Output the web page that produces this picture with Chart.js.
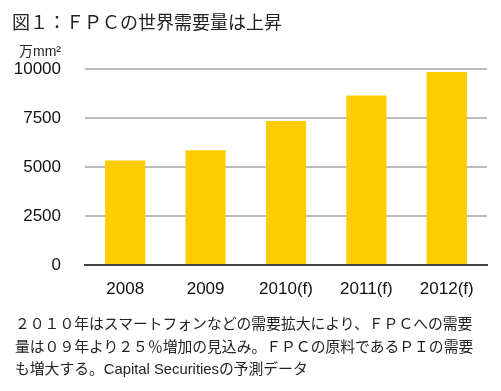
<!DOCTYPE html>
<html>
<head>
<meta charset="utf-8">
<script src="https://cdn.jsdelivr.net/npm/chart.js@4"></script>
<style>
  body { margin: 0; background: #fff; }
  #wrap { position: relative; width: 501px; height: 391px; overflow: hidden;
          font-family: "Liberation Sans", "Noto Sans CJK JP", sans-serif; color: #222; }
  #title { position: absolute; left: 12px; top: 8px; font-size: 18px; white-space: nowrap; }
  #unit { position: absolute; right: 440px; top: 40px; font-size: 14px; white-space: nowrap; }
  #note { position: absolute; left: 15px; top: 313px; font-size: 14.8px; line-height: 22.5px; white-space: nowrap; }
  canvas { position: absolute; left: 0; top: 0; }
</style>
</head>
<body>
<div id="wrap">
  <canvas id="myChart" width="501" height="391"></canvas>
  <div id="title">図１：ＦＰＣの世界需要量は上昇</div>
  <div id="unit">万mm²</div>
  <div id="note">２０１０年はスマートフォンなどの需要拡大により、ＦＰＣへの需要<br>量は０９年より２５％増加の見込み。ＦＰＣの原料であるＰＩの需要<br>も増大する。Capital Securitiesの予測データ</div>
</div>
<script>
// データ
const years = ["2008", "2009", "2010(f)", "2011(f)", "2012(f)"];
const demand = [5330, 5850, 7350, 8650, 9850];
const yTicks = [0, 2500, 5000, 7500, 10000];

const barColor = "#ffcc00";

document.addEventListener("DOMContentLoaded", renderChart);

function renderChart() {
  const ctx = document.getElementById("myChart").getContext("2d");
  new Chart(ctx, {
    type: "bar",
    data: {
      labels: years,
      datasets: [{
        data: demand,
        backgroundColor: barColor,
        borderWidth: 0,
        barPercentage: 0.5,
        categoryPercentage: 1,
      }],
    },
    options: {
      responsive: false,
      animation: false,
      layout: { padding: { top: 69, right: 14, bottom: 86, left: 0 } },
      plugins: { legend: { display: false }, tooltip: { enabled: false } },
      scales: {
        x: {
          grid: { display: false },
          border: { color: "#444", width: 2 },
          ticks: { color: "#111", padding: 6, font: { family: "Liberation Sans", size: 17 } },
          afterFit: (scale) => { scale.height = 40; },
        },
        y: {
          min: 0,
          max: 10000,
          afterBuildTicks: (scale) => { scale.ticks = yTicks.map((v) => ({ value: v })); },
          grid: {
            drawTicks: false,
            color: (c) => (c.tick && c.tick.value === 0 ? "#444" : "#bbb"),
            lineWidth: 2,
          },
          border: { display: false },
          ticks: {
            color: "#111",
            padding: 24,
            font: { family: "Liberation Sans", size: 17 },
            callback: (v) => String(v),
          },
          afterFit: (scale) => { scale.width = 85; },
        },
      },
    },
  });
}
</script>
</body>
</html>
